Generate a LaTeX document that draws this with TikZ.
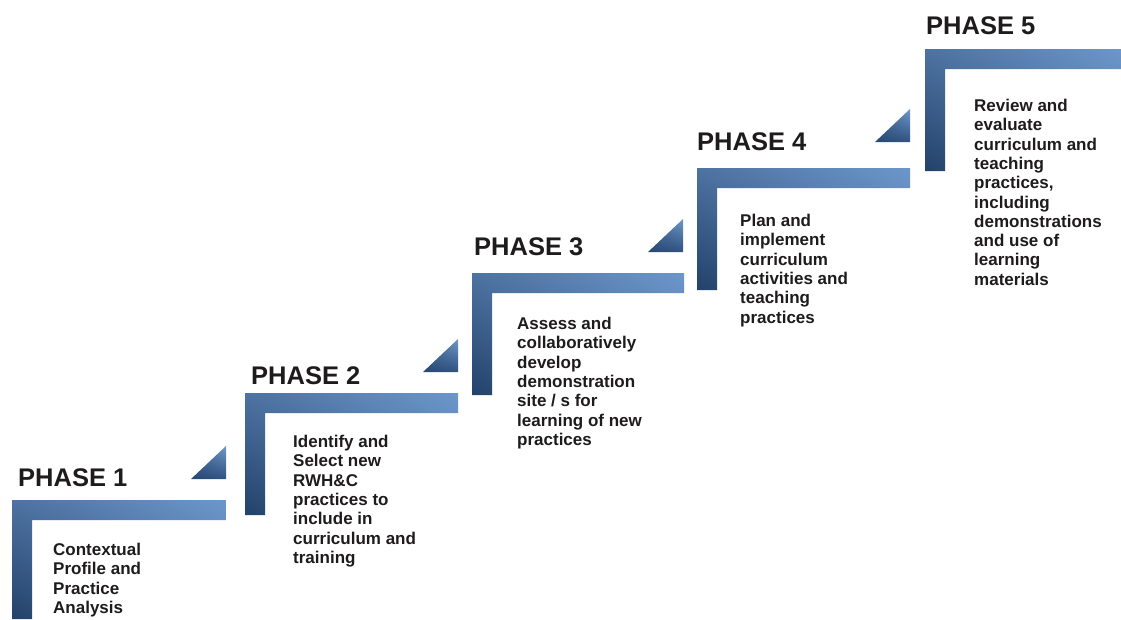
\documentclass[tikz,border=0pt]{standalone}
\usepackage{fontspec}
\usetikzlibrary{shadings}
\setmainfont{Liberation Sans}
\definecolor{barlight}{HTML}{6C97CB}
\definecolor{barmid}{HTML}{4E72A1}
\definecolor{bardark}{HTML}{22426A}
\definecolor{trilight}{HTML}{7098C8}
\definecolor{trimid}{HTML}{4A6E9E}
\definecolor{tridark}{HTML}{27486F}
\definecolor{tridarkr}{HTML}{2F5282}
\definecolor{txt}{HTML}{1E1B1C}
\begin{document}
\begin{tikzpicture}[x=1pt,y=-1pt,
  lshape/.style={upper left=barmid, upper right=barlight, lower left=bardark, lower right=barmid},
  tri/.style={upper left=trimid, upper right=trilight, lower left=tridark, lower right=tridarkr},
  title/.style={anchor=base west, inner sep=0pt, text=txt, font=\fontsize{25.5}{30}\selectfont\bfseries},
  body/.style={anchor=north west, inner sep=0pt, align=left, text=txt, font=\fontsize{17}{19.3}\selectfont\bfseries}]
\useasboundingbox (0,0) rectangle (1121,619);
% L shapes: left, top, right, bottom
\foreach \l/\t/\r/\b in {12/500/226/619, 245/393/458/515, 472/273/684/395, 697/168/910/290, 925/49/1121/171}{
  \shade[lshape] (\l,\b) -- (\l,\t) -- (\r,\t) -- (\r,\t+20) -- (\l+20,\t+20) -- (\l+20,\b) -- cycle;
}
% triangles: right x, bottom y
\foreach \r/\b in {226/479, 458/372, 683/252, 910/142}{
  \shade[tri] (\r-35,\b) -- (\r,\b) -- (\r,\b-33) -- cycle;
}
\node[title] (t1) at (18,486) {PHASE 1};
\node[title] (t2) at (251,384) {PHASE 2};
\node[title] (t3) at (474,255) {PHASE 3};
\node[title] (t4) at (697,150) {PHASE 4};
\node[title] (t5) at (926,34) {PHASE 5};
\node[body] (b1) at (53,543) {Contextual\\Profile and\\Practice\\Analysis};
\node[body] (b2) at (293,435) {Identify and\\Select new\\RWH\&C\\practices to\\include in\\curriculum and\\training};
\node[body] (b3) at (517,317) {Assess and\\collaboratively\\develop\\demonstration\\site / s for\\learning of new\\practices};
\node[body] (b4) at (740,214) {Plan and\\implement\\curriculum\\activities and\\teaching\\practices};
\node[body] (b5) at (974,99) {Review and\\evaluate\\curriculum and\\teaching\\practices,\\including\\demonstrations\\and use of\\learning\\materials};
\end{tikzpicture}
\end{document}
